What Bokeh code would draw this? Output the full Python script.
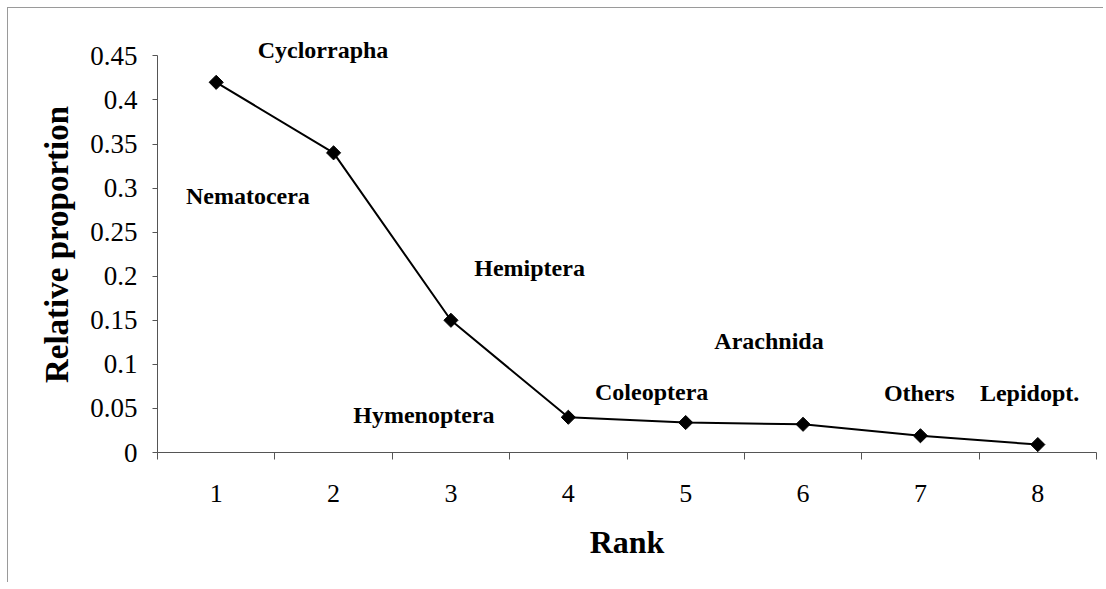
from bokeh.plotting import figure
from bokeh.models import FixedTicker, CustomJSTickFormatter, ColumnDataSource, LabelSet
from bokeh.embed import file_html
from bokeh.resources import INLINE
import math

# Data
ranks = [1, 2, 3, 4, 5, 6, 7, 8]
proportion = [0.42, 0.34, 0.15, 0.04, 0.034, 0.032, 0.019, 0.009]
y_ticks = [0, 0.05, 0.1, 0.15, 0.2, 0.25, 0.3, 0.35, 0.4, 0.45]

taxa = ["Cyclorrapha", "Nematocera", "Hemiptera", "Hymenoptera",
        "Coleoptera", "Arachnida", "Others", "Lepidopt."]
taxa_x = [1.91, 1.27, 3.67, 2.77, 4.71, 5.71, 6.99, 7.93]
taxa_y = [0.457, 0.291, 0.209, 0.042, 0.069, 0.126, 0.068, 0.068]

SERIF = "Liberation Serif"

p = figure(width=1096, height=575, output_backend="svg", toolbar_location=None,
           x_range=(0.5, 8.5), y_range=(0, 0.472),
           min_border_left=149, min_border_right=8, min_border_top=28, min_border_bottom=131)
p.styles = {"border-top": "1px solid #9a9a9a", "border-left": "1px solid #9a9a9a",
            "margin-left": "7px", "margin-top": "7px"}

p.outline_line_color = None
p.xgrid.visible = False
p.ygrid.visible = False
p.background_fill_color = "white"
p.border_fill_color = "white"

# x axis
xa = p.xaxis[0]
xa.ticker = FixedTicker(ticks=ranks, minor_ticks=[r - 0.5 for r in ranks] + [ranks[-1] + 0.5])
xa.major_tick_out = 0
xa.major_tick_in = 0
xa.minor_tick_out = 7
xa.minor_tick_in = 0
xa.minor_tick_line_color = "#555555"
xa.axis_line_color = "#555555"
xa.major_label_text_font = SERIF
xa.major_label_text_font_size = "26px"
xa.major_label_text_color = "black"
xa.major_label_standoff = 25
xa.axis_label = "Rank"
xa.axis_label_text_font = SERIF
xa.axis_label_text_font_style = "bold"
xa.axis_label_text_font_size = "32px"
xa.axis_label_text_color = "black"
xa.axis_label_standoff = 19

# y axis
ya = p.yaxis[0]
ya.bounds = (0, 0.45)
ya.ticker = FixedTicker(ticks=y_ticks, minor_ticks=[])
ya.formatter = CustomJSTickFormatter(code="""
    let s = tick.toFixed(2);
    s = s.replace(/0+$/, '').replace(/\\.$/, '');
    return s;
""")
ya.major_tick_out = 5
ya.major_tick_in = 0
ya.major_tick_line_color = "#555555"
ya.axis_line_color = "#555555"
ya.major_label_text_font = SERIF
ya.major_label_text_font_size = "27px"
ya.major_label_text_color = "black"
ya.major_label_standoff = 15
ya.axis_label = "Relative proportion"
ya.axis_label_text_font = SERIF
ya.axis_label_text_font_style = "bold"
ya.axis_label_text_font_size = "33px"
ya.axis_label_text_color = "black"
ya.axis_label_standoff = 12

# series
p.line(ranks, proportion, line_color="black", line_width=2)
p.scatter(ranks, proportion, marker="square", size=10, angle=math.pi / 4,
          fill_color="black", line_color="black")

src = ColumnDataSource(dict(x=taxa_x, y=taxa_y, t=taxa))
labels = LabelSet(x="x", y="y", text="t", source=src, text_align="center",
                  text_baseline="middle", text_font=SERIF, text_font_style="bold",
                  text_font_size="24px", text_color="black")
p.add_layout(labels)

open("out.html", "w").write(file_html(p, INLINE))
